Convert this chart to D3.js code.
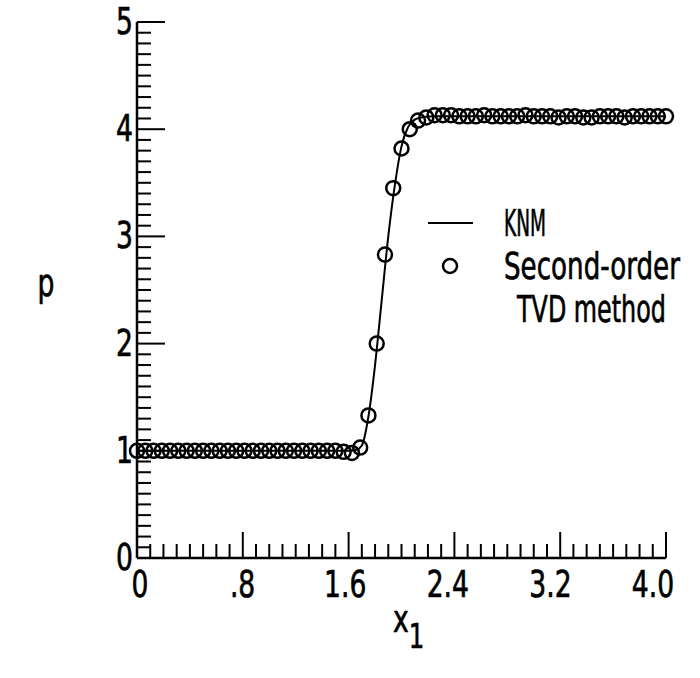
<!DOCTYPE html>
<html>
<head>
<meta charset="utf-8">
<script src="https://cdn.jsdelivr.net/npm/d3@7"></script>
<style>
body { margin: 0; background: #fff; }
text { font-family: "DejaVu Sans", sans-serif; fill: #000; stroke: #000; stroke-width: 0.7px; }
</style>
</head>
<body>
<script>
// x1 tick labels
var xTickVals = [0, 0.8, 1.6, 2.4, 3.2, 4.0];
var xTickText = ["0", ".8", "1.6", "2.4", "3.2", "4.0"];
var yTickVals = [0, 1, 2, 3, 4, 5];

// second-order TVD circles (dx = 0.0625)
var tvdP = [1.00, 1.00, 1.00, 1.00, 1.00, 1.00, 1.00, 1.00, 1.00, 1.00,
            1.00, 1.00, 1.00, 1.00, 1.00, 1.00, 1.00, 1.00, 1.00, 1.00,
            1.00, 1.00, 1.00, 1.00, 1.00, 0.99, 0.98, 1.03, 1.33, 2.00,
            2.83, 3.45, 3.82, 4.00, 4.08, 4.11, 4.13, 4.13, 4.13, 4.12,
            4.12, 4.12, 4.13, 4.12, 4.12, 4.12, 4.12, 4.13, 4.12, 4.12,
            4.12, 4.11, 4.12, 4.12, 4.11, 4.11, 4.12, 4.12, 4.12, 4.11,
            4.12, 4.12, 4.12, 4.12, 4.12];
var tvdX = tvdP.map(function(d, i){ return i * 0.0625; });

// KNM curve
var knmX = [0, 1.60, 1.66, 1.70, 1.75, 1.80, 1.85, 1.90, 1.95, 2.00, 2.05, 2.10, 2.15, 2.25, 4.0];
var knmP = [1.0, 1.0, 1.01, 1.05, 1.32, 1.80, 2.40, 3.00, 3.48, 3.84, 4.02, 4.09, 4.11, 4.12, 4.12];

var svg = d3.select('body').append('svg').attr('width', 700).attr('height', 678);

var x = d3.scaleLinear().domain([0, 4]).range([137, 666]);
var y = d3.scaleLinear().domain([0, 5]).range([558, 22]);
// the printed x labels sit a little tighter than the ticks
var xLab = d3.scaleLinear().domain([0, 4]).range([140, 653]);

var SX = 0.72; // narrow type like the original

// text squeezed horizontally
function label(px, py, str, anchor, size){
    return svg.append('text')
      .attr('transform', 'translate(' + px + ',' + py + ') scale(' + SX + ',1)')
      .attr('text-anchor', anchor).attr('font-size', size)
      .text(str);
}
// text squeezed to a given width
function fitLabel(px, py, str, w){
    var t = svg.append('text').attr('font-size', 37).text(str);
    var n = t.node().getComputedTextLength();
    t.attr('transform', 'translate(' + px + ',' + py + ') scale(' + (w / n) + ',1)');
    return t;
}

// axis lines
svg.append('line').attr('x1', x(0)).attr('x2', x(0)).attr('y1', y(0)).attr('y2', y(5))
  .attr('stroke', '#000').attr('stroke-width', 2.5);
svg.append('line').attr('x1', x(0)).attr('x2', x(4)).attr('y1', y(0)).attr('y2', y(0))
  .attr('stroke', '#000').attr('stroke-width', 2.5);

// ticks pointing inward, minor every 0.1
var yTicks = d3.range(0, 51).map(function(i){ return i / 10; });
svg.selectAll('.yt').data(yTicks).enter().append('line')
  .attr('x1', x(0)).attr('x2', function(d, i){ return x(0) + (i % 10 == 0 ? 28 : 14); })
  .attr('y1', function(d){ return y(d); }).attr('y2', function(d){ return y(d); })
  .attr('stroke', '#000').attr('stroke-width', 2);
var xTicks = d3.range(0, 41).map(function(i){ return i / 10; });
svg.selectAll('.xt').data(xTicks).enter().append('line')
  .attr('x1', function(d){ return x(d); }).attr('x2', function(d){ return x(d); })
  .attr('y1', y(0)).attr('y2', function(d, i){ return y(0) - (i % 8 == 0 ? 26 : 14); })
  .attr('stroke', '#000').attr('stroke-width', 2);

// tick labels
xTickVals.forEach(function(d, i){ label(xLab(d), 597, xTickText[i], 'middle', 37); });
yTickVals.forEach(function(d){ label(133, y(d) + 12, d, 'end', 37); });

// axis titles
label(46, 296, 'p', 'middle', 37);
var xt = label(393, 632, 'x', 'start', 37);
xt.append('tspan').attr('dy', 16).attr('font-size', 34).text('1');

// KNM line
var line = d3.line().x(function(d){ return x(d[0]); }).y(function(d){ return y(d[1]); })
  .curve(d3.curveMonotoneX);
svg.append('path').datum(knmX.map(function(d, i){ return [d, knmP[i]]; }))
  .attr('d', line).attr('fill', 'none').attr('stroke', '#000').attr('stroke-width', 2);

// TVD circles
svg.selectAll('circle.tvd').data(tvdX).enter().append('circle')
  .attr('class', 'tvd')
  .attr('cx', function(d){ return x(d); })
  .attr('cy', function(d, i){ return y(tvdP[i]); })
  .attr('r', 7)
  .attr('fill', 'none').attr('stroke', '#000').attr('stroke-width', 2.5);

// legend
svg.append('line').attr('x1', 428).attr('x2', 473).attr('y1', 223).attr('y2', 223)
  .attr('stroke', '#000').attr('stroke-width', 2);
fitLabel(504, 236, 'KNM', 42);
svg.append('circle').attr('cx', 450).attr('cy', 266).attr('r', 7)
  .attr('fill', 'none').attr('stroke', '#000').attr('stroke-width', 2.5);
fitLabel(504, 279, 'Second-order', 176);
fitLabel(517, 322, 'TVD method', 149);
</script>
</body>
</html>
